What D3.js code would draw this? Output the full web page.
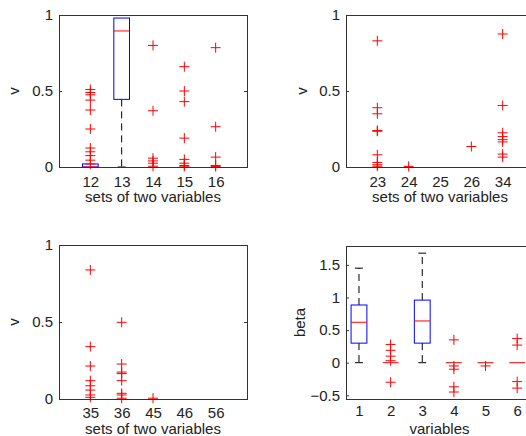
<!DOCTYPE html>
<html lang="en">
<head>
<meta charset="utf-8">
<script src="https://d3js.org/d3.v7.min.js"></script>
<title>Boxplots</title>
<style type="text/css">
body {
  margin: 0;
  background-color: #ffffff;
}
svg text {
  font-family: "Liberation Sans", Arial, sans-serif;
  font-size: 15px;
  fill: #222;
}
</style>
</head>
<body>
<script type="text/javascript">

// category labels
var setsA = ["12", "13", "14", "15", "16"];
var setsB = ["23", "24", "25", "26", "34"];
var setsC = ["35", "36", "45", "46", "56"];
var varNames = ["1", "2", "3", "4", "5", "6"];

// box stats per category: [min, q1, median, q3, max]; null = box collapsed onto the x axis
var boxA = [[0, 0, 0, 0.02, 0.02], [0, 0.445, 0.895, 0.98, 0.98], null, null, null];
var boxB = [null, null, null, null, null];
var boxC = [null, null, null, null, null];
var boxBeta = [[0, 0.3, 0.62, 0.885, 1.45], [0, 0, 0, 0, 0], [0, 0.3, 0.64, 0.96, 1.68], [0, 0, 0, 0, 0], [0, 0, 0, 0, 0], [0, 0, 0, 0, 0]];

// outliers per category
var outA = [
  [0.51, 0.49, 0.475, 0.44, 0.375, 0.25, 0.125, 0.10, 0.075, 0.045, 0.02],
  [],
  [0.80, 0.37, 0.058, 0.04, 0.025, 0.005],
  [0.66, 0.50, 0.43, 0.19, 0.05, 0.025, 0.01, 0.005],
  [0.785, 0.265, 0.065, 0.01, 0.003]
];
var outB = [
  [0.83, 0.39, 0.35, 0.24, 0.235, 0.08, 0.03, 0.015, 0.005],
  [0.004],
  [],
  [0.135],
  [0.875, 0.405, 0.225, 0.20, 0.18, 0.165, 0.085, 0.065]
];
var outC = [
  [0.838, 0.34, 0.214, 0.119, 0.086, 0.058, 0.026, 0.011],
  [0.498, 0.227, 0.175, 0.165, 0.119, 0.037, 0.026, 0.005],
  [0.005],
  [],
  []
];
var outBeta = [
  [],
  [0.28, 0.19, 0.10, 0.03, -0.30],
  [],
  [0.35, -0.05, -0.10, -0.37, -0.45],
  [-0.05],
  [0.37, 0.27, -0.29, -0.39]
];

var vTicks = [0, 0.5, 1];
var betaTicks = [-0.5, 0, 0.5, 1, 1.5];

var svg = d3.select("body")
  .append("svg")
  .attr("width", 526)
  .attr("height", 436);

function drawPanel(p) {
  var x = d3.scaleLinear().domain(p.xDomain).range([p.left, p.right]);
  var y = d3.scaleLinear().domain(p.yDomain).range([p.bottom, p.top]);
  var g = svg.append("g");
  var hw = 0.25, cw = 0.125;

  p.boxes.forEach(function(b, i) {
    if (!b) return;
    var c = i + 1;
    // whiskers
    [[b[3], b[4]], [b[1], b[0]]].forEach(function(w) {
      if (w[0] === w[1]) return;
      g.append("line")
        .attr("x1", x(c)).attr("x2", x(c))
        .attr("y1", y(w[0])).attr("y2", y(w[1]))
        .style("stroke", "#000").style("stroke-dasharray", "7,5");
      g.append("line")
        .attr("x1", x(c - cw)).attr("x2", x(c + cw))
        .attr("y1", y(w[1])).attr("y2", y(w[1]))
        .style("stroke", "#000");
    });
    g.append("rect")
      .attr("x", x(c - hw))
      .attr("y", y(b[3]))
      .attr("width", x(c + hw) - x(c - hw))
      .attr("height", Math.max(0, y(b[1]) - y(b[3])))
      .style("fill", "none").style("stroke", "#0000ff");
    g.append("line")
      .attr("x1", x(c - hw)).attr("x2", x(c + hw))
      .attr("y1", y(b[2])).attr("y2", y(b[2]))
      .style("stroke", "#ff0000");
  });

  // outliers as + markers
  p.outliers.forEach(function(list, i) {
    list.forEach(function(v) {
      var cx = x(i + 1), cy = y(v);
      g.append("path")
        .attr("d", "M" + (cx - 5) + "," + cy + "H" + (cx + 5) + "M" + cx + "," + (cy - 5) + "V" + (cy + 5))
        .style("stroke", "#ff0000").style("fill", "none");
    });
  });

  // frame
  g.append("rect")
    .attr("x", p.left).attr("y", p.top)
    .attr("width", p.right - p.left).attr("height", p.bottom - p.top)
    .style("fill", "none").style("stroke", "#333").style("shape-rendering", "crispEdges");

  var yAxis = g.append("g")
    .attr("transform", "translate(" + p.left + ",0)")
    .call(d3.axisLeft(y).tickValues(p.yTicks).tickSize(-3).tickPadding(6).tickFormat(d3.format("")));
  var yAxisR = g.append("g")
    .attr("transform", "translate(" + p.right + ",0)")
    .call(d3.axisRight(y).tickValues(p.yTicks).tickSize(-3).tickFormat(""));
  var xAxis = g.append("g")
    .attr("transform", "translate(0," + p.bottom + ")")
    .call(d3.axisBottom(x).tickValues(d3.range(1, p.labels.length + 1)).tickSize(0).tickPadding(p.xPad)
      .tickFormat(function(d) { return p.labels[d - 1]; }));
  [yAxis, yAxisR, xAxis].forEach(function(a) {
    a.select(".domain").remove();
    a.selectAll("line").style("stroke", "#333");
    a.selectAll("text").attr("font-family", null).attr("font-size", null).style("fill", "#222");
  });

  g.append("text")
    .attr("x", (p.left + p.right) / 2)
    .attr("y", p.bottom + 35)
    .attr("text-anchor", "middle")
    .text(p.xlabel);
  g.append("text")
    .attr("transform", "translate(" + p.ylabelX + "," + (p.top + p.bottom) / 2 + ") rotate(-90)")
    .attr("text-anchor", "middle")
    .text(p.ylabel);
}

drawPanel({ left: 59, right: 247, top: 15, bottom: 167, xDomain: [0, 6], yDomain: [0, 1],
  yTicks: vTicks, labels: setsA, boxes: boxA, outliers: outA, xPad: 9,
  xlabel: "sets of two variables", ylabel: "v", ylabelX: 19 });
drawPanel({ left: 346, right: 534, top: 15, bottom: 167, xDomain: [0, 6], yDomain: [0, 1],
  yTicks: vTicks, labels: setsB, boxes: boxB, outliers: outB, xPad: 9,
  xlabel: "sets of two variables", ylabel: "v", ylabelX: 307 });
drawPanel({ left: 59, right: 247, top: 245, bottom: 399, xDomain: [0, 6], yDomain: [0, 1],
  yTicks: vTicks, labels: setsC, boxes: boxC, outliers: outC, xPad: 8,
  xlabel: "sets of two variables", ylabel: "v", ylabelX: 19 });
drawPanel({ left: 346, right: 533, top: 246, bottom: 399, xDomain: [0.59, 6.5], yDomain: [-0.557, 1.79],
  yTicks: betaTicks, labels: varNames, boxes: boxBeta, outliers: outBeta, xPad: 6,
  xlabel: "variables", ylabel: "beta", ylabelX: 305 });

</script>
</body>
</html>
